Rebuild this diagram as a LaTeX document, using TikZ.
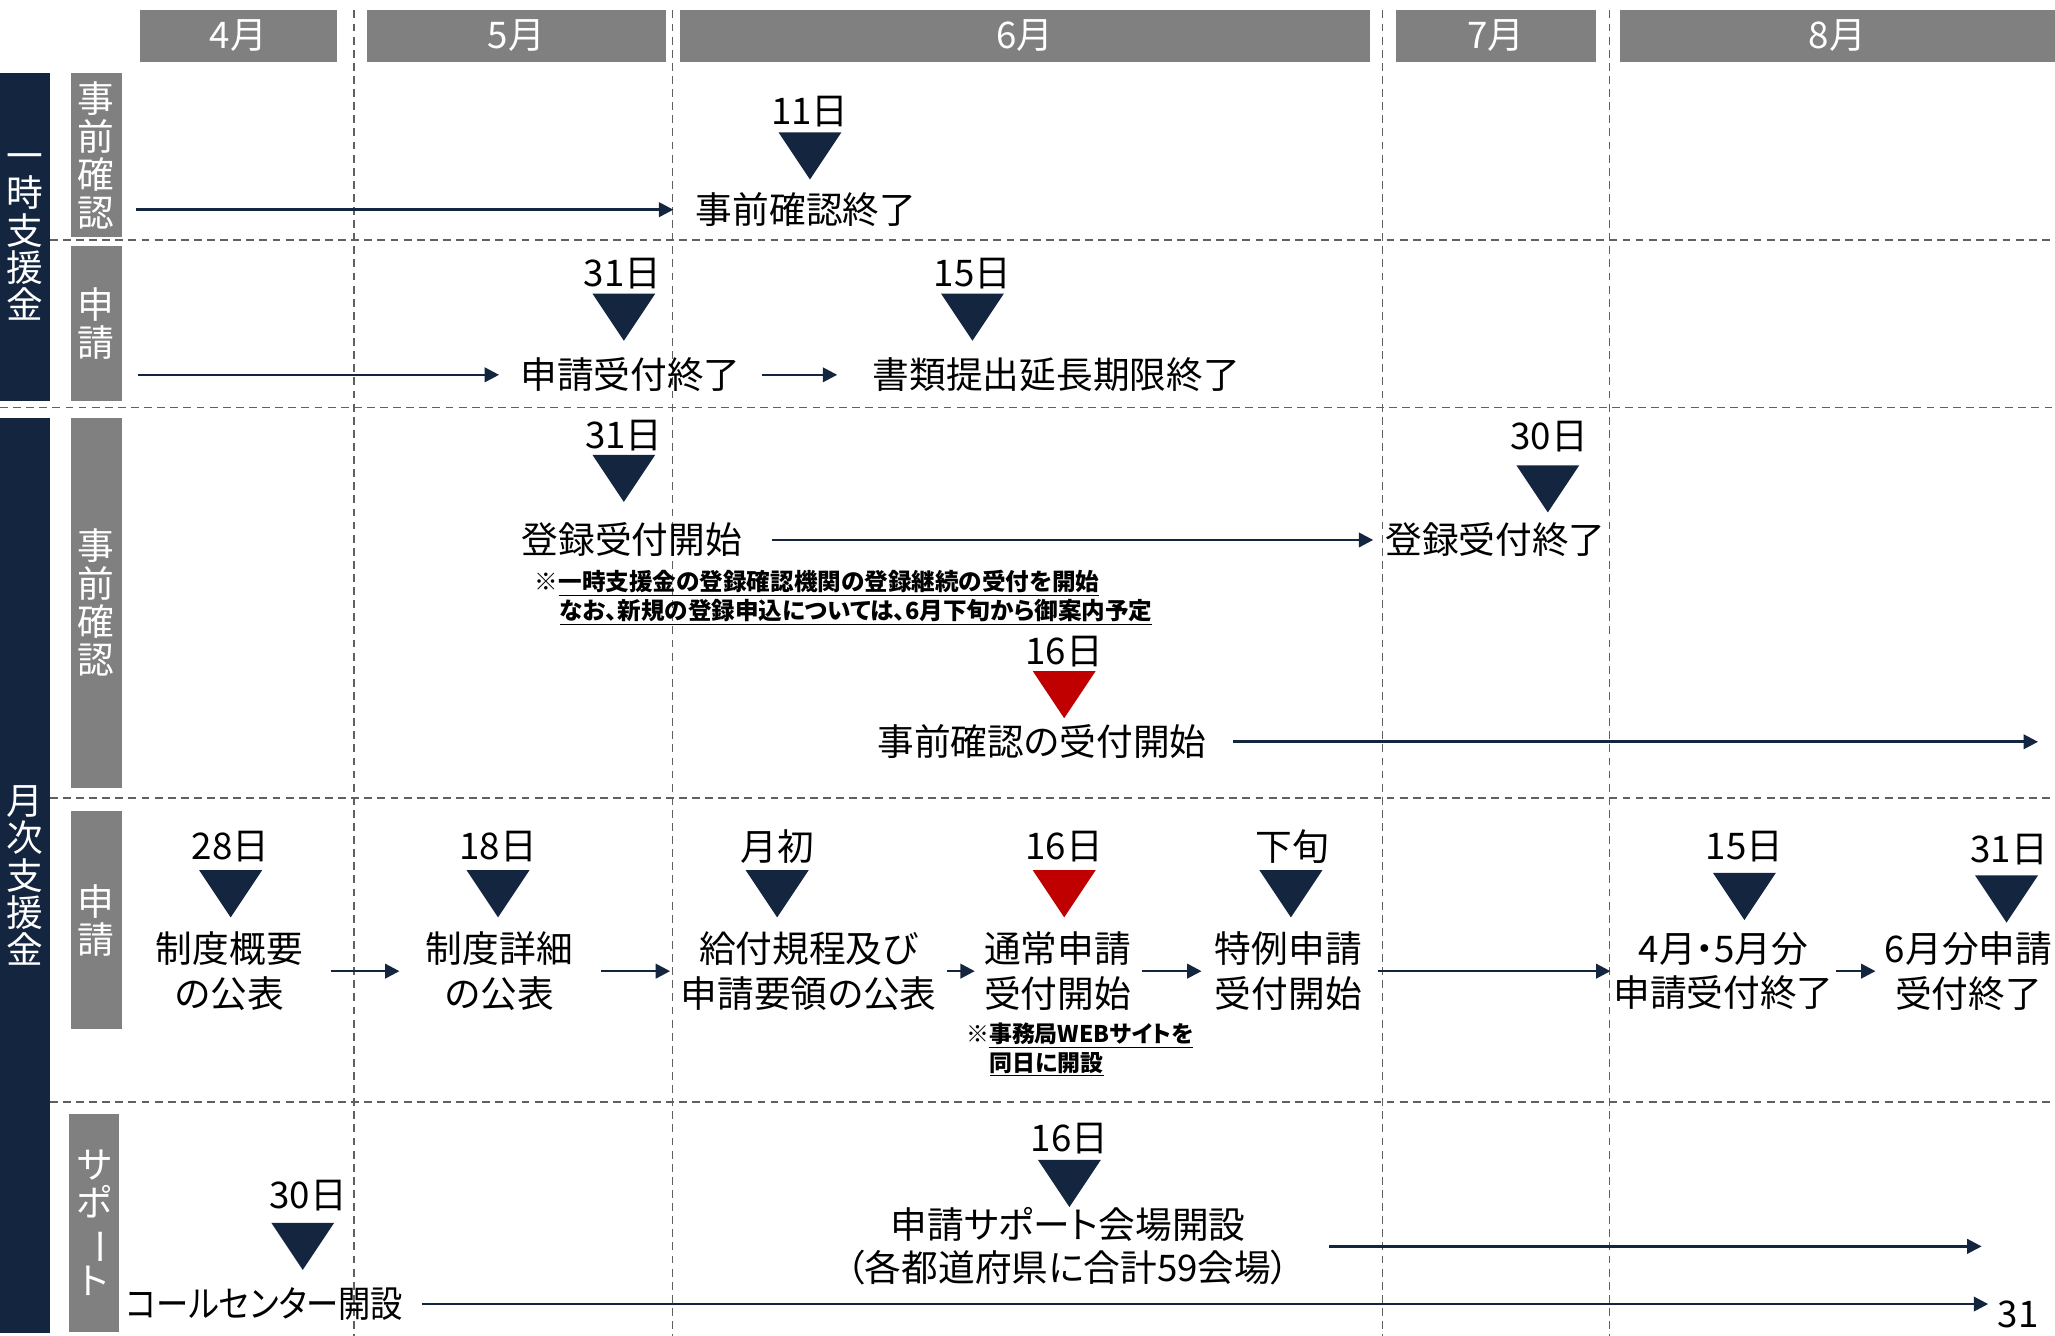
\documentclass[tikz,border=0pt]{standalone}
\usepackage{fontspec}
\setmainfont{Noto Sans CJK JP}[RawFeature={+palt}]
\usetikzlibrary{arrows.meta}
\usetikzlibrary{positioning}
\definecolor{navy}{HTML}{14253F}
\definecolor{hdrgray}{HTML}{808080}
\definecolor{mred}{HTML}{C00000}
\definecolor{gridgray}{HTML}{606060}
\begin{document}
\begin{tikzpicture}[x=1pt, y=-1pt,
  every node/.style={inner sep=0pt, font=\fontsize{28}{34}\selectfont},
  mon/.style={fill=hdrgray, text=white, minimum height=39pt},
  sidebar/.style={fill=navy, text=white, minimum width=38pt, align=center, font=\fontsize{28}{28.5}\selectfont},
  lane/.style={fill=hdrgray, text=white, minimum width=39pt, align=center, font=\fontsize{28}{29}\selectfont},
  evt/.style={align=center},
  note/.style={anchor=west, font=\fontsize{18}{22}\selectfont\bfseries},
  flow/.style={navy, line width=2pt, -{Triangle[length=11pt,width=11pt]}},
  gridline/.style={gridgray, line width=1.2pt, dash pattern=on 6pt off 4pt},
  tridown/.pic={\path[pic actions] (-24,0) -- (24,0) -- (0,36) -- cycle;}]
\useasboundingbox (0,0) rectangle (1568,1019);
\clip (0,0) rectangle (1568,1019);
% grid
\foreach \x in {270,513,1055,1228}
  \draw[gridline] (\x,8) -- (\x,1019);
\draw[gridline] (38,183) -- (1568,183);
\draw[gridline] (0,311) -- (1568,311);
\draw[gridline] (38,609) -- (1568,609);
\draw[gridline] (38,841) -- (1568,841);
% months
\node[mon, minimum width=150pt] (apr) at (182,27.5) {4月};
\node[mon, minimum width=228pt] (may) at (394,27.5) {5月};
\node[mon, minimum width=526pt] (jun) at (782,27.5) {6月};
\node[mon, minimum width=153pt] (jul) at (1141.5,27.5) {7月};
\node[mon, minimum width=332pt] (aug) at (1402,27.5) {8月};
% side labels
\node[sidebar, minimum height=250pt] (tmpAid) at (19,181) {一\\時\\支\\援\\金};
\node[sidebar, minimum height=698pt] (monAid) at (19,668) {月\\次\\支\\援\\金};
\node[lane, minimum height=125pt] (tmpPre) at (73.5,118.5) {事\\前\\確\\認};
\node[lane, minimum height=118pt] (tmpApp) at (73.5,247) {申\\請};
\node[lane, minimum height=282pt] (monPre) at (73.5,460) {事\\前\\確\\認};
\node[lane, minimum height=166pt] (monApp) at (73.5,702) {申\\請};
\node[lane, minimum width=38pt, minimum height=166pt] (monSup) at (72,933)
  {サ\\ポ\\\rotatebox[origin=c]{-90}{ー}\\ト};
% temporary aid: pre-check
\node (d11) at (618,85) {11日};
\pic[fill=navy] at (618,101) {tridown};
\node (preEnd) at (615,160) {事前確認終了};
\coordinate (s1) at (104,160);
\draw[flow, shorten >=17pt] (s1) -- (preEnd.west);
% temporary aid: application
\node (d31a) at (475,209) {31日};
\pic[fill=navy] at (476,224) {tridown};
\node (appEnd) at (481,286) {申請受付終了};
\node (d15a) at (742,209) {15日};
\pic[fill=navy] at (742,224) {tridown};
\node (docEnd) at (806,286) {書類提出延長期限終了};
\coordinate (s2) at (105,286);
\draw[flow, shorten >=16pt] (s2) -- (appEnd.west);
\draw[flow, shorten <=16pt, shorten >=27pt] (appEnd.east) -- (docEnd.west);
% monthly aid: pre-check
\node (d31b) at (476,332) {31日};
\pic[fill=navy] at (476,347) {tridown};
\node (regStart) at (482,412) {登録受付開始};
\node (d30a) at (1182,333) {30日};
\pic[fill=navy] at (1181,355) {tridown};
\node (regEnd) at (1141,412) {登録受付終了};
\draw[flow, shorten <=23pt, shorten >=9pt] (regStart.east) -- (regEnd.west);
\node[note] (regNoteA) at (408,445) {※\underline{一時支援金の登録確認機関の登録継続の受付を開始}};
\node[note] (regNoteB) at (427,467) {\underline{なお、新規の登録申込については、6月下旬から御案内予定}};
\node (d16a) at (812,497) {16日};
\pic[fill=mred] at (812,512) {tridown};
\node (preStart) at (795,566) {事前確認の受付開始};
\coordinate (e3) at (1555,566);
\draw[flow, shorten <=20pt] (preStart.east) -- (e3);
% monthly aid: application
\node (d28) at (176,646) {28日};
\pic[fill=navy] at (176,664) {tridown};
\node[evt] (outline) at (175,741) {制度概要\\の公表};
\node (d18) at (380,646) {18日};
\pic[fill=navy] at (380,664) {tridown};
\node[evt] (detail) at (381,741) {制度詳細\\の公表};
\node (dEarly) at (593,646) {月初};
\pic[fill=navy] at (593,664) {tridown};
\node[evt] (rules) at (617,741) {給付規程及び\\申請要領の公表};
\node (d16b) at (812,646) {16日};
\pic[fill=mred] at (812,664) {tridown};
\node[evt] (normal) at (807,741) {通常申請\\受付開始};
\node[note, font=\fontsize{17.5}{22}\selectfont\bfseries] (webNoteA) at (737,790) {※\underline{事務局WEBサイトを}};
\node[note, font=\fontsize{17.5}{22}\selectfont\bfseries] (webNoteB) at (755,812) {\underline{同日に開設}};
\node (dLate) at (986,646) {下旬};
\pic[fill=navy] at (985,664) {tridown};
\node[evt] (special) at (983,741) {特例申請\\受付開始};
\node (d15b) at (1331,646) {15日};
\pic[fill=navy] at (1331,666) {tridown};
\node[evt] (aprMay) at (1315,741) {4月・5月分\\申請受付終了};
\node (d31c) at (1533,648) {31日};
\pic[fill=navy] at (1531,668) {tridown};
\node[evt] (junEnd) at (1502,741) {6月分申請\\受付終了};
\draw[flow, shorten <=21pt, shorten >=20pt] (outline.east) -- (detail.west);
\draw[flow, shorten <=21pt, shorten >=8pt] (detail.east) -- (rules.west);
\draw[flow, shorten <=8pt, shorten >=7pt] (rules.east) -- (normal.west);
\draw[flow, shorten <=8pt, shorten >=10pt] (normal.east) -- (special.west);
\draw[flow, shorten <=12pt, shorten >=2pt] (special.east) -- (aprMay.west);
\draw[flow, shorten <=2pt, shorten >=7pt] (aprMay.east) -- (junEnd.west);
% monthly aid: support
\node (d30b) at (235,912) {30日};
\pic[fill=navy] at (231,933) {tridown};
\node (call) at (202,995) {\scalebox{0.88}[1]{コールセンター開設}};
\node (d16c) at (816,869) {16日};
\pic[fill=navy] at (816,885) {tridown};
\node[evt, font=\fontsize{28}{33}\selectfont] (venue) at (815,951) {申請サポート会場開設\\（各都道府県に合計59会場）};
\coordinate (e5a) at (1517,995);
\coordinate (e5b) at (1512,951);
\draw[flow, shorten <=14pt] (call.east) -- (e5a);
\draw[flow, shorten <=30pt] (venue.east) -- (e5b);
\node (page) at (1540,1003) {31};
\end{tikzpicture}
\end{document}
